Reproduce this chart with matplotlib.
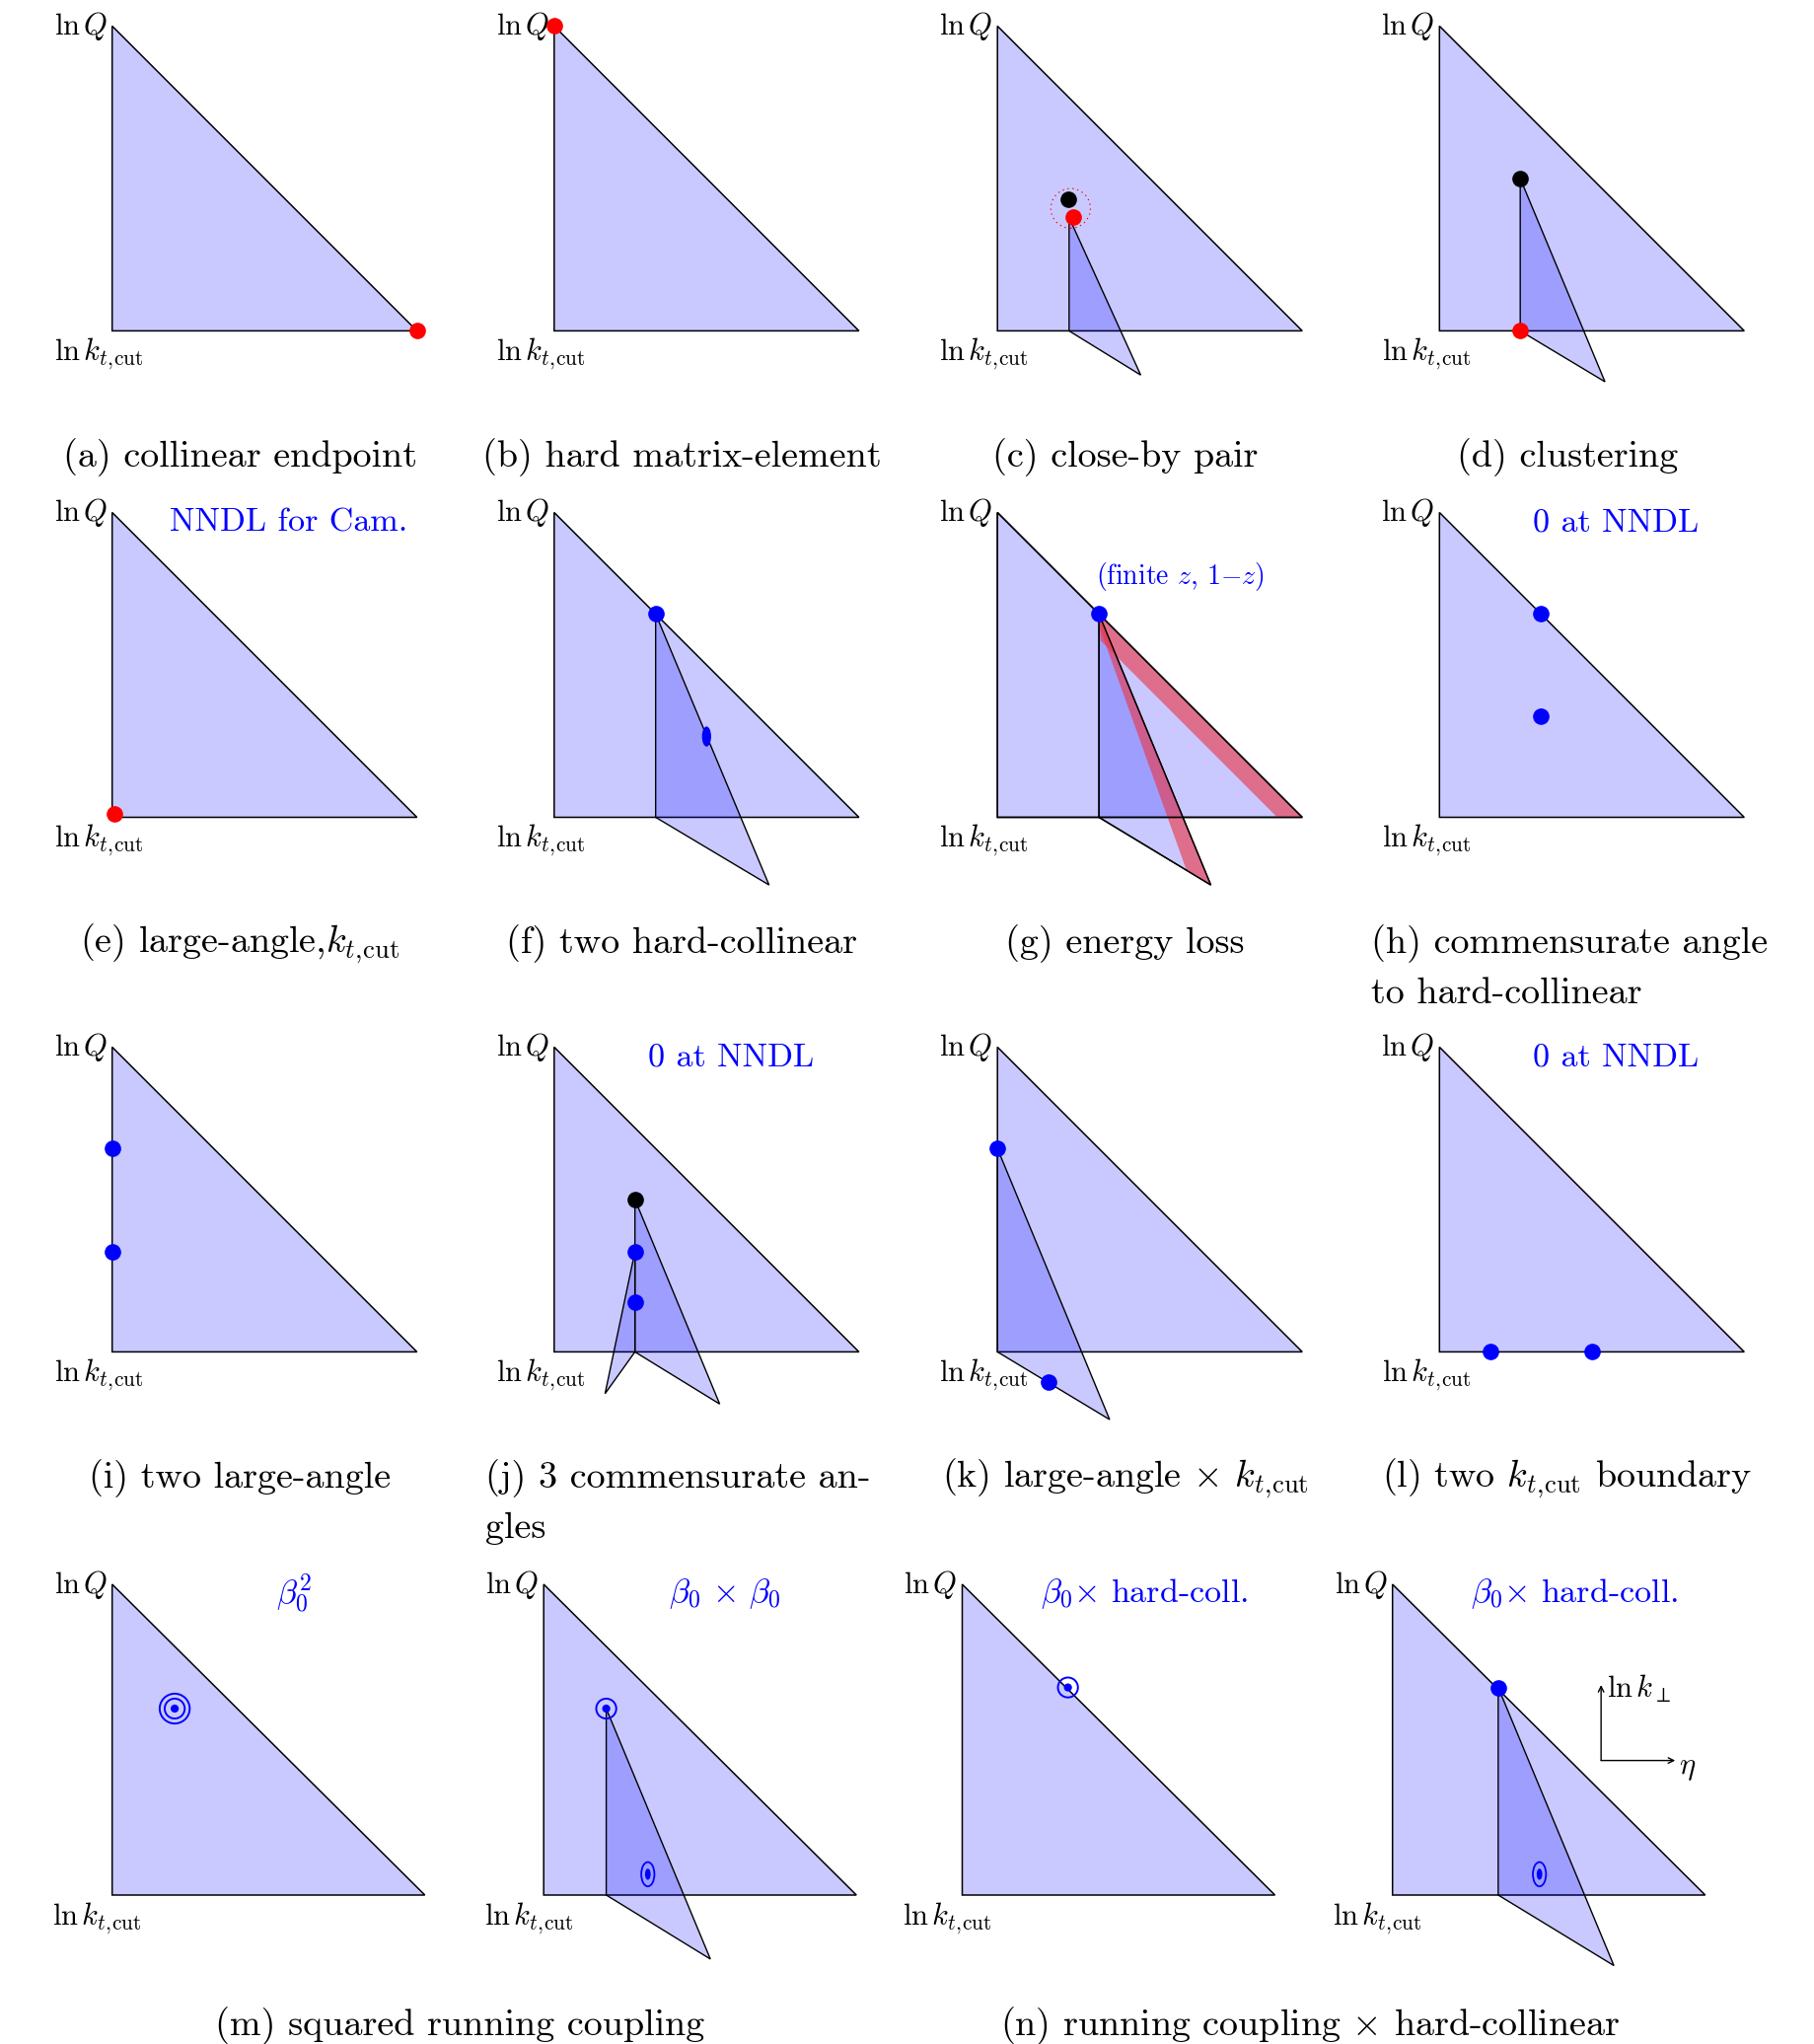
import matplotlib
matplotlib.use('Agg')
import matplotlib.pyplot as plt
from matplotlib.patches import Polygon, Ellipse, Circle

plt.rcParams['mathtext.fontset'] = 'cm'
plt.rcParams['font.family'] = 'cmr10'
plt.rcParams['axes.unicode_minus'] = False

W, H = 1840, 2072
FILL = (0, 0, 1, 0.21)
RED_BAND = (0.93, 0.2, 0.25, 0.6)
BLUE = '#0000ff'
LBL, CAP, NOTE = 22, 27.4, 24.5

# primary Lund triangle, in units of (eta, ln kt) scaled to 1
lund = [(0, 0), (0, 1), (1, 0)]

# secondary (leaf) triangles: emitter, its foot on the cut, far corner
leaf_c = [(0.235, 0.372), (0.235, 0.0), (0.47, -0.145)]
leaf_d = [(0.265, 0.5), (0.265, 0.0), (0.543, -0.167)]
leaf_f = [(0.333, 0.667), (0.333, 0.0), (0.705, -0.222)]
leaf_g = [(0.333, 0.667), (0.333, 0.0), (0.70, -0.222)]
leaf_j = [(0.265, 0.5), (0.265, 0.0), (0.543, -0.171)]
leaf_j2 = [(0.265, 0.329), (0.265, 0.0), (0.167, -0.137)]
leaf_k = [(0.0, 0.667), (0.0, 0.0), (0.368, -0.222)]
leaf_m2 = [(0.2, 0.6), (0.2, 0.0), (0.533, -0.206)]
leaf_n2 = [(0.338, 0.668), (0.338, 0.0), (0.708, -0.227)]

# energy-loss bands in (g)
band_g1 = [(0.333, 0.667), (1.0, 0.0), (0.918, 0.0), (0.338, 0.58)]
band_g2 = [(0.333, 0.667), (0.70, -0.222), (0.62, -0.173), (0.336, 0.62)]

# emissions
red_a = [(1.0, 0.0)]
red_b = [(0.0, 1.0)]
black_c = [(0.232, 0.432)]
red_c = [(0.248, 0.372)]
black_d = [(0.265, 0.5)]
red_d = [(0.265, 0.0)]
red_e = [(0.008, 0.01)]
blue_f = [(0.333, 0.667)]
oval_f = [(0.5, 0.265)]
blue_g = [(0.333, 0.667)]
blue_h = [(0.333, 0.667), (0.333, 0.333)]
blue_i = [(0.0, 0.667), (0.0, 0.329)]
black_j = [(0.265, 0.5)]
blue_j = [(0.265, 0.329), (0.265, 0.162)]
blue_k = [(0.0, 0.667), (0.167, -0.1)]
blue_l = [(0.167, 0.0), (0.5, 0.0)]
target_m1 = [(0.2, 0.6)]
target_m2 = [(0.2, 0.6)]
oval_m2 = [(0.333, 0.067)]
target_n1 = [(0.338, 0.668)]
blue_n2 = [(0.338, 0.668)]
oval_n2 = [(0.47, 0.067)]

captions = {
    'a': '(a) collinear endpoint', 'b': '(b) hard matrix-element',
    'c': '(c) close-by pair', 'd': '(d) clustering',
    'e': r'(e) large-angle,$k_{t,\!\mathrm{cut}}$', 'f': '(f) two hard-collinear',
    'g': '(g) energy loss', 'i': '(i) two large-angle',
    'k': r'(k) large-angle $\times$ $k_{t,\!\mathrm{cut}}$',
    'l': r'(l) two $k_{t,\!\mathrm{cut}}$ boundary',
}
caption_h = ['(h) commensurate angle', 'to hard-collinear']
caption_j = ['(j) 3 commensurate an-', 'gles']
caption_m = '(m) squared running coupling'
caption_n = r'(n) running coupling $\times$ hard-collinear'

fig = plt.figure(figsize=(W / 100, H / 100), dpi=100)


def panel(left, top, w, h):
    xl, yl = (-0.45, 1.45), (-0.6, 1.2)
    ax = fig.add_axes([(left + xl[0] * w) / W, 1 - (top + (1 - yl[0]) * h) / H,
                       (xl[1] - xl[0]) * w / W, (yl[1] - yl[0]) * h / H])
    ax.set_xlim(xl)
    ax.set_ylim(yl)
    ax.axis('off')
    ax.add_patch(Polygon(lund, closed=True, fc=FILL, ec='black', lw=1.1, zorder=1))
    ax.text(-0.015, 1.0, r'$\ln Q$', ha='right', va='center', fontsize=LBL)
    ax.text(-0.19, -0.075, r'$\ln k_{t,\!\mathrm{cut}}$', ha='left', va='center', fontsize=LBL)
    return ax


def leaf(ax, pts):
    ax.add_patch(Polygon(pts, closed=True, fc=FILL, ec='black', lw=1.0, zorder=2))


def dots(ax, pts, color):
    ax.plot([p[0] for p in pts], [p[1] for p in pts], 'o', color=color,
            ms=12, mec='none', zorder=5, clip_on=False)


def oval(ax, pts, filled=True):
    for x, y in pts:
        if filled:
            ax.add_patch(Ellipse((x, y), 0.03, 0.066, fc=BLUE, ec='none', zorder=5))
        else:
            ax.add_patch(Ellipse((x, y), 0.042, 0.078, fc='none', ec=BLUE, lw=1.3, zorder=5))
            ax.add_patch(Ellipse((x, y), 0.018, 0.036, fc=BLUE, ec='none', zorder=5))


def target(ax, pts, rings):
    for x, y in pts:
        ax.add_patch(Circle((x, y), 0.013, fc=BLUE, ec='none', zorder=5))
        for r in rings:
            ax.add_patch(Circle((x, y), r, fc='none', ec=BLUE, lw=1.4, zorder=5))


def note(ax, txt, y=0.966, size=NOTE, x=0.58):
    ax.text(x, y, txt, color=BLUE, ha='center', va='center', fontsize=size)


def caption(ax, txt, x=0.419, y=-0.415):
    ax.text(x, y, txt, ha='center', va='center', fontsize=CAP)


# layout of the panels (pixel positions of the triangle corners)
lefts = [113.7, 561.8, 1011.2, 1459.3]
tops = [26.4, 519.5, 1061.4]
size = 309
lefts4 = [113.7, 551.2, 975.5, 1411.7]
top4, w4, h4 = 1606, 317, 315

ax = {}
for r, row in enumerate(['abcd', 'efgh', 'ijkl']):
    for c, key in enumerate(row):
        ax[key] = panel(lefts[c], tops[r], size, size)
for c, key in enumerate(['m1', 'm2', 'n1', 'n2']):
    ax[key] = panel(lefts4[c], top4, w4, h4)

for key, txt in captions.items():
    caption(ax[key], txt)
for k, lines in (('h', caption_h), ('j', caption_j)):
    ax[k].text(-0.225, -0.415, lines[0], ha='left', va='center', fontsize=CAP)
    ax[k].text(-0.225, -0.58, lines[1], ha='left', va='center', fontsize=CAP)
caption(ax['m1'], caption_m, x=1.1125, y=-0.42)
caption(ax['n1'], caption_n, x=1.1125, y=-0.42)

# (a), (b)
dots(ax['a'], red_a, 'red')
dots(ax['b'], red_b, 'red')

# (c) close-by pair
leaf(ax['c'], leaf_c)
ax['c'].add_patch(Circle((0.24, 0.402), 0.065, fc='none', ec='red', lw=0.9,
                         ls=(0, (1, 3)), zorder=4))
dots(ax['c'], black_c, 'black')
dots(ax['c'], red_c, 'red')

# (d) clustering
leaf(ax['d'], leaf_d)
dots(ax['d'], black_d, 'black')
dots(ax['d'], red_d, 'red')

# (e)
dots(ax['e'], red_e, 'red')
note(ax['e'], 'NNDL for Cam.')

# (f)
leaf(ax['f'], leaf_f)
dots(ax['f'], blue_f, BLUE)
oval(ax['f'], oval_f)

# (g) energy loss
leaf(ax['g'], leaf_g)
for band in (band_g1, band_g2):
    ax['g'].add_patch(Polygon(band, closed=True, fc=RED_BAND, ec='none', zorder=3))
# outlines back on top of the bands
ax['g'].add_patch(Polygon(lund, closed=True, fc='none', ec='black', lw=1.1, zorder=4))
ax['g'].add_patch(Polygon(leaf_g, closed=True, fc='none', ec='black', lw=1.0, zorder=4))
dots(ax['g'], blue_g, BLUE)
note(ax['g'], r'(finite $z$, 1$-z$)', y=0.79, size=20, x=0.6)

# (h)
dots(ax['h'], blue_h, BLUE)
note(ax['h'], '0 at NNDL')

# (i)
dots(ax['i'], blue_i, BLUE)

# (j)
leaf(ax['j'], leaf_j)
leaf(ax['j'], leaf_j2)
dots(ax['j'], black_j, 'black')
dots(ax['j'], blue_j, BLUE)
note(ax['j'], '0 at NNDL')

# (k)
leaf(ax['k'], leaf_k)
dots(ax['k'], blue_k, BLUE)

# (l)
dots(ax['l'], blue_l, BLUE)
note(ax['l'], '0 at NNDL')

# (m) running coupling squared
target(ax['m1'], target_m1, [0.032, 0.048])
note(ax['m1'], r'$\beta_0^2$', y=0.97)
leaf(ax['m2'], leaf_m2)
target(ax['m2'], target_m2, [0.032])
oval(ax['m2'], oval_m2, filled=False)
note(ax['m2'], r'$\beta_0\,\times\,\beta_0$', y=0.97)

# (n) running coupling x hard-collinear
target(ax['n1'], target_n1, [0.032])
note(ax['n1'], r'$\beta_0{\times}$ hard-coll.', y=0.97, x=0.583)
leaf(ax['n2'], leaf_n2)
dots(ax['n2'], blue_n2, BLUE)
oval(ax['n2'], oval_n2, filled=False)
note(ax['n2'], r'$\beta_0{\times}$ hard-coll.', y=0.97, x=0.583)
a = ax['n2']
a.annotate('', xy=(0.667, 0.676), xytext=(0.667, 0.433),
           arrowprops=dict(arrowstyle='->', lw=1.0, color='black', shrinkA=0, shrinkB=0))
a.annotate('', xy=(0.904, 0.433), xytext=(0.667, 0.433),
           arrowprops=dict(arrowstyle='->', lw=1.0, color='black', shrinkA=0, shrinkB=0))
a.text(0.685, 0.665, r'$\ln k_\perp$', ha='left', va='center', fontsize=LBL)
a.text(0.915, 0.405, r'$\eta$', ha='left', va='center', fontsize=LBL)

fig.savefig('out.png', dpi=100)
